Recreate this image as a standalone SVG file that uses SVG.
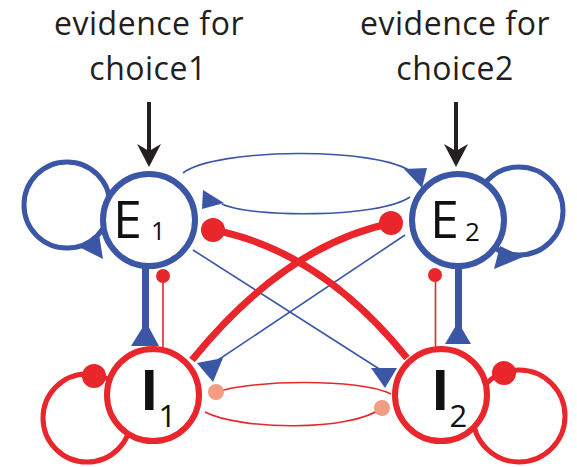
<svg xmlns="http://www.w3.org/2000/svg" width="577" height="467" viewBox="0 0 577 467">
<style>
.lbl{font-family:"Open Sans","Liberation Sans",sans-serif;font-size:32px;letter-spacing:0.5px;fill:#231f20;text-anchor:middle}
.ntxt{font-family:"Open Sans","Liberation Sans",sans-serif;fill:#111}
.bthin{fill:none;stroke:#3b56a5;stroke-width:1.6}
.bthick{fill:none;stroke:#3b56a5;stroke-width:7}
.bloop{fill:none;stroke:#3b56a5;stroke-width:5}
.rloop{fill:none;stroke:#e8262b;stroke-width:5}
.rthin{fill:none;stroke:#e8262b;stroke-width:1.6}
.rthick{fill:none;stroke:#e8262b;stroke-width:7}
.bhead{fill:#3b56a5}
.rdot{fill:#e8262b}
.sdot{fill:#f29c84}
.kline{stroke:#231f20;stroke-width:4;fill:none}
.khead{fill:#231f20}
.enode{fill:#fff;stroke:#3b56a5;stroke-width:6}
.inode{fill:#fff;stroke:#e8262b;stroke-width:6}
</style>

<g id="label1">
<text class="lbl" x="149" y="35">evidence for</text>
<text class="lbl" x="148" y="80">choice1</text>
</g>
<g id="label2">
<text class="lbl" x="455" y="35">evidence for</text>
<text class="lbl" x="455" y="80">choice2</text>
</g>

<g id="connectors">
<!-- input arrows -->
<line class="kline" x1="149" y1="102" x2="149" y2="152"/>
<polygon class="khead" points="137,144 149,151 161,144 149,167"/>
<line class="kline" x1="456" y1="102" x2="456" y2="152"/>
<polygon class="khead" points="444,144 456,151 468,144 456,167"/>

<!-- self loops -->
<circle class="bloop" cx="67" cy="205" r="43"/>
<polygon class="bhead" points="99,234 103,259 81,248"/>
<circle class="bloop" cx="519" cy="211" r="44"/>
<polygon class="bhead" points="500,246 494,269 523,257"/>
<circle class="rloop" cx="87" cy="418" r="44"/>
<circle class="rdot" cx="94" cy="376" r="12"/>
<circle class="rloop" cx="519" cy="416" r="46"/>
<circle class="rdot" cx="504" cy="373" r="12"/>

<!-- E1 <-> E2 -->
<path class="bthin" d="M183 173 C215 148 380 146 413 173"/>
<polygon class="bhead" points="404,169 427,168 422,188"/>
<path class="bthin" d="M410 197 C380 218 250 218 222 204"/>
<polygon class="bhead" points="203,190 202,209 224,203"/>

<!-- I1 <-> I2 -->
<path class="rthin" d="M217 392 C250 380 360 378 391 394"/>
<circle class="sdot" cx="216" cy="392" r="8"/>
<path class="rthin" d="M205 412 C240 430 350 432 382 408"/>
<circle class="sdot" cx="382" cy="408" r="8"/>

<!-- E -> I diagonals -->
<line class="bthin" x1="193" y1="250" x2="384" y2="372"/>
<polygon class="bhead" points="371,368 397,368 385,388"/>
<line class="bthin" x1="405" y1="235" x2="212" y2="364"/>
<polygon class="bhead" points="197,363 223,358 213,382"/>

<!-- I -> E thick inhibitory -->
<path class="rthick" d="M213 230 Q320 250 407 358"/>
<circle class="rdot" cx="213" cy="230" r="12"/>
<path class="rthick" d="M392 223 Q285 245 192 360"/>
<circle class="rdot" cx="391" cy="223" r="12"/>

<!-- verticals -->
<line class="bthick" x1="145.5" y1="266" x2="145.5" y2="334"/>
<polygon class="bhead" points="131,346 159,346 146,322"/>
<line class="rthin" x1="163" y1="276" x2="163" y2="348"/>
<circle class="rdot" cx="163" cy="276" r="7"/>

<line class="bthick" x1="458.5" y1="266" x2="458.5" y2="334"/>
<polygon class="bhead" points="445,344 471,344 458,322"/>
<line class="rthin" x1="435.5" y1="275" x2="435.5" y2="347"/>
<circle class="rdot" cx="435" cy="275" r="7"/>
</g>

<g id="E1">
<circle class="enode" cx="149" cy="220" r="46"/>
<text class="ntxt" x="113" y="238"><tspan font-size="52">E</tspan><tspan font-size="25" dx="9" dy="2">1</tspan></text>
</g>
<g id="E2">
<circle class="enode" cx="458" cy="220" r="46"/>
<text class="ntxt" x="430" y="238"><tspan font-size="52">E</tspan><tspan font-size="26" dx="6" dy="3">2</tspan></text>
</g>
<g id="I1">
<circle class="inode" cx="153" cy="395" r="46"/>
<text class="ntxt" x="140" y="410"><tspan font-size="56" font-weight="700">I</tspan><tspan font-size="31" dy="17">1</tspan></text>
</g>
<g id="I2">
<circle class="inode" cx="441" cy="395" r="46"/>
<text class="ntxt" x="431" y="410"><tspan font-size="56" font-weight="700">I</tspan><tspan font-size="31" dy="17">2</tspan></text>
</g>
</svg>
